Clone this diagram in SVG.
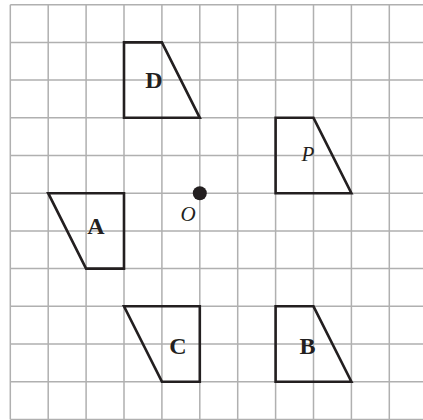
<svg xmlns="http://www.w3.org/2000/svg" width="423" height="420" viewBox="0 0 423 420">
<style>
.g{stroke:#b0b0b0;stroke-width:1.5;fill:none}
.s{stroke:#231f20;stroke-width:2.6;fill:none;stroke-linejoin:miter}
.b{font-family:"Liberation Serif",serif;font-weight:bold;font-size:24px;fill:#231f20;text-anchor:middle}
.i{font-family:"Liberation Serif",serif;font-style:italic;font-size:21px;fill:#231f20;text-anchor:middle}
</style>
<rect width="423" height="420" fill="#fff"/>
<g id="grid" class="g">
<path d="M10.3 4.7V419.4M48.2 4.7V419.4M86.1 4.7V419.4M124 4.7V419.4M161.9 4.7V419.4M199.8 4.7V419.4M237.7 4.7V419.4M275.6 4.7V419.4M313.5 4.7V419.4M351.4 4.7V419.4M389.3 4.7V419.4"/>
<path d="M10.3 4.7H423M10.3 42.4H423M10.3 80.1H423M10.3 117.8H423M10.3 155.5H423M10.3 193.2H423M10.3 230.9H423M10.3 268.6H423M10.3 306.3H423M10.3 344H423M10.3 381.7H423M10.3 419.4H423"/>
</g>
<g id="D"><polygon class="s" points="124,42.4 161.9,42.4 199.8,117.8 124,117.8"/><text class="b" x="154" y="88">D</text></g>
<g id="P"><polygon class="s" points="275.6,117.8 313.5,117.8 351.4,193.2 275.6,193.2"/><text class="i" x="308" y="161">P</text></g>
<g id="O"><circle cx="199.8" cy="193.2" r="7" fill="#231f20"/><text class="i" x="188" y="221">O</text></g>
<g id="A"><polygon class="s" points="48.2,193.2 124,193.2 124,268.6 86.1,268.6"/><text class="b" x="96" y="234">A</text></g>
<g id="C"><polygon class="s" points="124,306.3 199.8,306.3 199.8,381.7 161.9,381.7"/><text class="b" x="178" y="354">C</text></g>
<g id="B"><polygon class="s" points="275.6,306.3 313.5,306.3 351.4,381.7 275.6,381.7"/><text class="b" x="307.5" y="354">B</text></g>
</svg>
